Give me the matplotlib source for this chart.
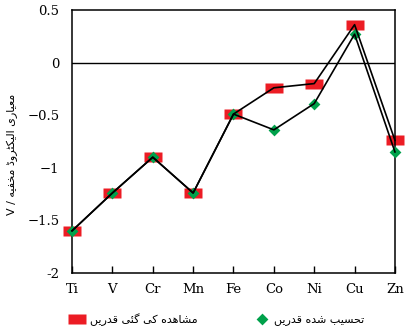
import matplotlib
matplotlib.use("Agg")
import matplotlib.pyplot as plt

elements = ["Ti", "V", "Cr", "Mn", "Fe", "Co", "Ni", "Cu", "Zn"]
observed = [-1.60, -1.24, -0.90, -1.24, -0.49, -0.24, -0.20, 0.36, -0.74]
calculated = [-1.60, -1.24, -0.90, -1.24, -0.49, -0.64, -0.39, 0.27, -0.85]
yticks = [0.5, 0, -0.5, -1, -1.5, -2]
ytick_labels = ["0.5", "0", "\u22120.5", "\u22121", "\u22121.5", "-2"]
label_observed = "مشاہدہ کی گئی قدریں"
label_calculated = "تحسیب شدہ قدریں"
ylabel_urdu = "معیاری الیکٹروڈ مخفیہ"
ylabel_unit = "V / "

# --- minimal Arabic-script shaping (matplotlib has no shaping / bidi) ---
FORMS = {
    # iso, fin, ini, med  (None => right-joining only)
    "ب": (0xFE8F, 0xFE90, 0xFE91, 0xFE92),
    "ت": (0xFE95, 0xFE96, 0xFE97, 0xFE98),
    "ٹ": (0xFB66, 0xFB67, 0xFB68, 0xFB69),
    "ح": (0xFEA1, 0xFEA2, 0xFEA3, 0xFEA4),
    "خ": (0xFEA5, 0xFEA6, 0xFEA7, 0xFEA8),
    "س": (0xFEB1, 0xFEB2, 0xFEB3, 0xFEB4),
    "ش": (0xFEB5, 0xFEB6, 0xFEB7, 0xFEB8),
    "ع": (0xFEC9, 0xFECA, 0xFECB, 0xFECC),
    "ف": (0xFED1, 0xFED2, 0xFED3, 0xFED4),
    "ق": (0xFED5, 0xFED6, 0xFED7, 0xFED8),
    "ک": (0xFB8E, 0xFB8F, 0xFB90, 0xFB91),
    "گ": (0xFB92, 0xFB93, 0xFB94, 0xFB95),
    "ل": (0xFEDD, 0xFEDE, 0xFEDF, 0xFEE0),
    "م": (0xFEE1, 0xFEE2, 0xFEE3, 0xFEE4),
    "ں": (0xFB9E, 0xFB9F, 0xFB9E, 0xFB9F),
    # heh goal: DejaVu lacks its presentation forms, use heh forms
    "ہ": (0xFEE9, 0xFEEA, 0xFEEB, 0xFEEC),
    "ی": (0xFBFC, 0xFBFD, 0xFBFE, 0xFBFF),
    "ئ": (0xFE89, 0xFE8A, 0xFE8B, 0xFE8C),
    "ا": (0xFE8D, 0xFE8E, None, None),
    "د": (0xFEA9, 0xFEAA, None, None),
    "ڈ": (0xFB88, 0xFB89, None, None),
    "ر": (0xFEAD, 0xFEAE, None, None),
    "و": (0xFEED, 0xFEEE, None, None),
}


def dual(c):
    return c in FORMS and FORMS[c][2] is not None


def joins(c):
    return c in FORMS


def shape_rtl(text):
    out = []
    n = len(text)
    for i, c in enumerate(text):
        if c not in FORMS:
            out.append(c)
            continue
        prev = text[i - 1] if i > 0 else ""
        nxt = text[i + 1] if i + 1 < n else ""
        jp = dual(prev)
        jn = dual(c) and joins(nxt)
        iso, fin, ini, med = FORMS[c]
        if jp and jn:
            code = med
        elif jp:
            code = fin
        elif jn:
            code = ini
        else:
            code = iso
        out.append(chr(code))
    return "".join(reversed(out))


urdu_font = ["DejaVu Sans"]
num_font = ["DejaVu Serif"]

fig = plt.figure(figsize=(4.14, 3.32), dpi=100)
ax = fig.add_axes([0.174, 0.178, 0.780, 0.792])

x = list(range(len(elements)))
rect = [(-1, -0.6), (1, -0.6), (1, 0.6), (-1, 0.6), (-1, -0.6)]
diam = [(0, 1), (1, 0), (0, -1), (-1, 0), (0, 1)]
red = "#ec1c24"
green = "#00a14b"

ax.axhline(0, color="black", lw=1.0, zorder=1)
ax.plot(x, observed, color="black", lw=1.2, zorder=4, clip_on=False)
ax.plot(x, calculated, color="black", lw=1.2, zorder=4, clip_on=False)
h1, = ax.plot(x, observed, ls="none", marker=rect, markersize=12.5,
              color=red, mec="none", zorder=2, clip_on=False)
h2, = ax.plot(x, calculated, ls="none", marker=diam, markersize=8.5,
              color=green, mec="none", zorder=3, clip_on=False)

ax.set_xlim(0, len(elements) - 1)
ax.set_ylim(-2, 0.5)
ax.set_xticks(x)
ax.set_xticklabels(elements, fontfamily=num_font, fontsize=9.5)
ax.set_yticks(yticks)
ax.set_yticklabels(ytick_labels, fontfamily=num_font, fontsize=9.5)
ax.tick_params(axis="x", direction="in", length=5, width=1, pad=7)
ax.tick_params(axis="y", length=0, pad=9)
for s in ax.spines.values():
    s.set_linewidth(1.1)

ax.set_ylabel(ylabel_unit + shape_rtl(ylabel_urdu), fontfamily=urdu_font,
              fontsize=8)
ax.yaxis.set_label_coords(-0.167, 0.45)

leg = ax.legend([h1, h2], [shape_rtl(label_observed), shape_rtl(label_calculated)],
                loc="center", bbox_to_anchor=(0.45, -0.178), ncol=2,
                frameon=False, columnspacing=5.1, handletextpad=0.5,
                handlelength=1.3, borderpad=0.2,
                prop={"family": urdu_font, "size": 8})

fig.savefig("out.png", dpi=100)
